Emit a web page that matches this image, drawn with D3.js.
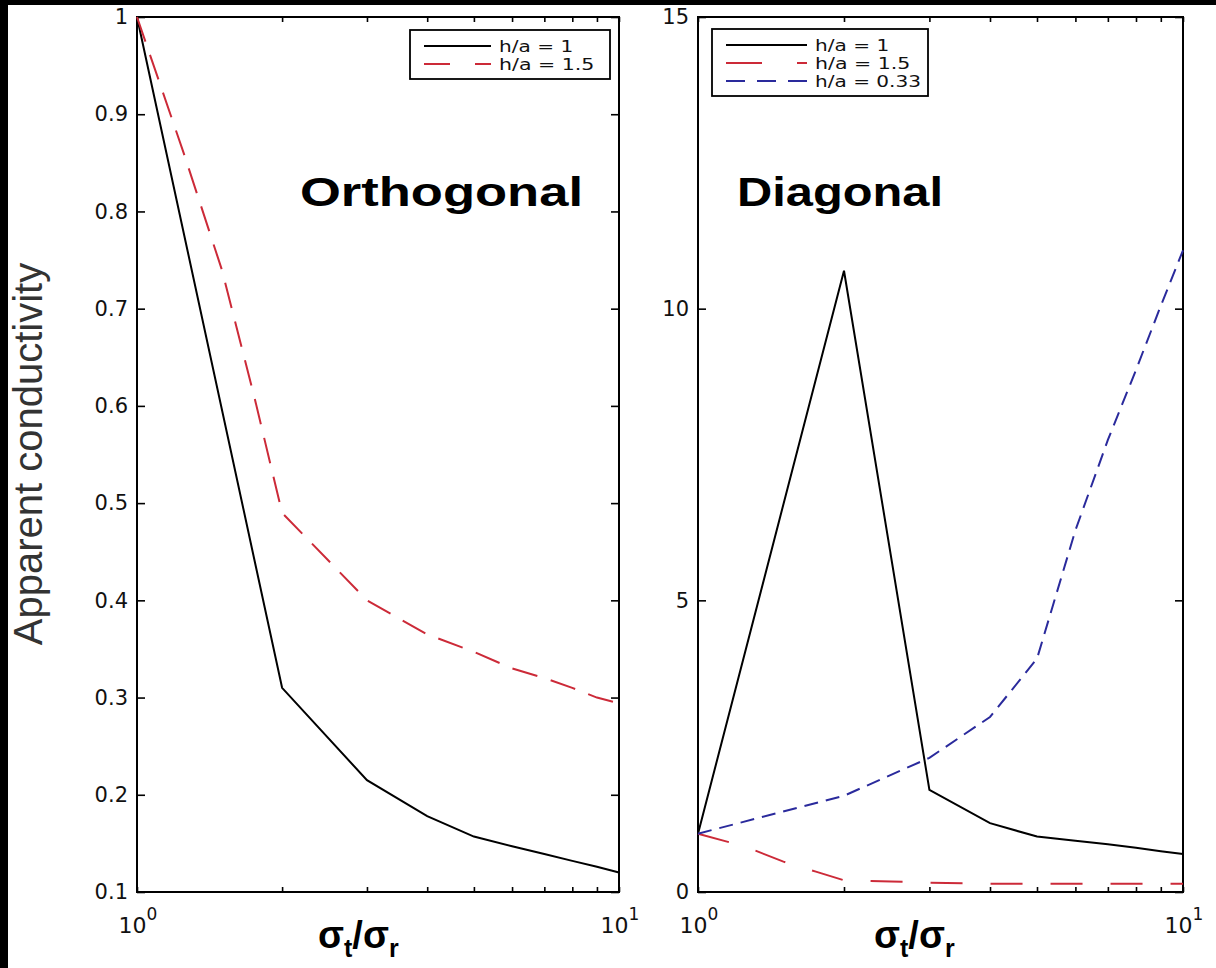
<!DOCTYPE html>
<html><head><meta charset="utf-8">
<script src="https://cdn.jsdelivr.net/npm/d3@7"></script>
<style>body{margin:0;background:#fff} svg{display:block}</style>
</head><body>
<svg id="c" width="1216" height="968"></svg>
<script>
// ---------- data ----------
const orthoX_h1  = [1, 2, 3, 4, 5, 6, 7, 8, 9, 10];
const orthoY_h1  = [1.0, 0.31, 0.215, 0.178, 0.157, 0.147, 0.139, 0.132, 0.126, 0.12];
const orthoX_h15 = [1, 1.25, 1.5, 1.75, 2, 3, 4, 5, 6, 7, 8, 9, 10];
const orthoY_h15 = [1.0, 0.86, 0.74, 0.61, 0.49, 0.40, 0.365, 0.347, 0.33, 0.32, 0.31, 0.30, 0.294];

const diagX_h1   = [1, 2, 3, 4, 5, 6, 7, 8, 9, 10];
const diagY_h1   = [1.0, 10.65, 1.75, 1.18, 0.95, 0.88, 0.82, 0.76, 0.70, 0.65];
const diagX_h15  = [1, 1.25, 1.5, 1.75, 2, 2.5, 3, 4, 5, 6, 7, 8, 9, 10];
const diagY_h15  = [1.0, 0.78, 0.52, 0.35, 0.2, 0.18, 0.16, 0.14, 0.14, 0.14, 0.14, 0.14, 0.14, 0.14];
const diagX_h033 = [1, 2, 3, 4, 5, 6, 7, 8, 9, 10];
const diagY_h033 = [1.0, 1.65, 2.3, 3.0, 4.0, 6.2, 7.75, 8.95, 10.05, 11.0];

const orthoYTicks = [0.1, 0.2, 0.3, 0.4, 0.5, 0.6, 0.7, 0.8, 0.9, 1];
const diagYTicks  = [0, 5, 10, 15];
const xMinorTicks = [1, 2, 3, 4, 5, 6, 7, 8, 9, 10];
const xTickLabels = [{v: 1, base: "10", exp: "0"}, {v: 10, base: "10", exp: "1"}];
const legendOrtho = ["h/a = 1", "h/a = 1.5"];
const legendDiag  = ["h/a = 1", "h/a = 1.5", "h/a = 0.33"];

// ---------- styles ----------
const RED = "#cc2a38", BLUE = "#2a2a9c", BLACK = "#000";
const TOP = 17, BOT = 892;
const svg = d3.select("#c");
svg.append("rect").attr("width", 1216).attr("height", 968).attr("fill", "#fff");

function panel(x0, x1, yDomain, yTicks, yFmt) {
  const xs = d3.scaleLog().domain([1, 10]).range([x0, x1]);
  const ys = d3.scaleLinear().domain(yDomain).range([BOT, TOP]);
  const g = svg.append("g");
  const axStyle = sel => {
    sel.select(".domain").remove();
    sel.selectAll(".tick line").attr("stroke", "#000").attr("stroke-width", 1.6);
    sel.selectAll("text").attr("font-family", "DejaVu Sans").attr("font-size", 21).attr("fill", "#111");
  };
  g.append("g").attr("transform", `translate(0,${BOT})`)
    .call(d3.axisBottom(xs).tickValues(xMinorTicks).tickSize(-5).tickFormat("")).call(axStyle);
  g.append("g").attr("transform", `translate(0,${TOP})`)
    .call(d3.axisTop(xs).tickValues(xMinorTicks).tickSize(-5).tickFormat("")).call(axStyle);
  g.append("g").attr("transform", `translate(${x0},0)`)
    .call(d3.axisLeft(ys).tickValues(yTicks).tickSize(-8).tickPadding(9).tickFormat(yFmt)).call(axStyle);
  g.append("g").attr("transform", `translate(${x1},0)`)
    .call(d3.axisRight(ys).tickValues(yTicks).tickSize(-8).tickFormat("")).call(axStyle);
  g.append("rect").attr("x", x0).attr("y", TOP).attr("width", x1 - x0).attr("height", BOT - TOP)
    .attr("fill", "none").attr("stroke", "#000").attr("stroke-width", 2);
  xTickLabels.forEach(t => {
    const tx = g.append("text").attr("x", xs(t.v) + 1).attr("y", 933).attr("text-anchor", "middle")
      .attr("font-family", "DejaVu Sans").attr("fill", "#111");
    tx.append("tspan").attr("font-size", 22).text(t.base);
    tx.append("tspan").attr("font-size", 17).attr("dy", -13).text(t.exp);
  });
  return {xs, ys, g};
}

function drawLine(p, xsArr, ysArr, color, dash, width) {
  const pts = xsArr.map((x, i) => [x, ysArr[i]]);
  p.g.append("path").datum(pts)
    .attr("d", d3.line().x(d => p.xs(d[0])).y(d => p.ys(d[1])))
    .attr("fill", "none").attr("stroke", color).attr("stroke-width", width || 2)
    .attr("stroke-dasharray", dash || null).attr("stroke-linejoin", "miter");
}

const pL = panel(137, 619, [0.1, 1], orthoYTicks, d => d === 1 ? "1" : d3.format(".1f")(d));
const pR = panel(698, 1183, [0, 15], diagYTicks, d3.format("d"));

drawLine(pL, orthoX_h1, orthoY_h1, BLACK);
drawLine(pL, orthoX_h15, orthoY_h15, RED, "26,14");
drawLine(pR, diagX_h1, diagY_h1, BLACK);
drawLine(pR, diagX_h15, diagY_h15, RED, "32,28");
drawLine(pR, diagX_h033, diagY_h033, BLUE, "14,8");

// legends
function legend(x, y, w, lineLen, labels, styles) {
  const step = 18;
  const h = 16 * 2 + step * (labels.length - 1) - 1;
  svg.append("rect").attr("x", x).attr("y", y).attr("width", w).attr("height", h)
    .attr("fill", "#fff").attr("stroke", "#000").attr("stroke-width", 1.8);
  labels.forEach((lab, i) => {
    const cy = y + 16 + i * step;
    svg.append("line").attr("x1", x + 14).attr("x2", x + 14 + lineLen).attr("y1", cy).attr("y2", cy)
      .attr("stroke", styles[i].c).attr("stroke-width", 2).attr("stroke-dasharray", styles[i].d || null);
    svg.append("text").attr("x", x + 22 + lineLen).attr("y", cy + 6).attr("font-family", "DejaVu Sans")
      .attr("font-size", 15).attr("fill", "#111")
      .attr("textLength", lab.length * 10.6).attr("lengthAdjust", "spacingAndGlyphs").text(lab);
  });
}
legend(410, 30, 200, 67, legendOrtho, [{c: BLACK}, {c: RED, d: "26,25"}]);
legend(712, 29, 216, 81, legendDiag, [{c: BLACK}, {c: RED, d: "36,35"}, {c: BLUE, d: "19,12"}]);

// titles / annotations
svg.append("text").attr("x", 300).attr("y", 206).attr("font-family", "Liberation Sans").attr("font-weight", "bold")
  .attr("font-size", 40).attr("textLength", 283).attr("lengthAdjust", "spacingAndGlyphs").text("Orthogonal");
svg.append("text").attr("x", 737).attr("y", 206).attr("font-family", "Liberation Sans").attr("font-weight", "bold")
  .attr("font-size", 40).attr("textLength", 206).attr("lengthAdjust", "spacingAndGlyphs").text("Diagonal");

function sigmaLabel(x) {
  const t = svg.append("text").attr("x", x).attr("y", 948).attr("font-family", "Liberation Sans")
    .attr("font-weight", "bold").attr("font-size", 38).attr("fill", "#000");
  t.append("tspan").text("σ");
  t.append("tspan").attr("font-size", 25).attr("dy", 9).text("t");
  t.append("tspan").attr("dy", -9).text("/σ");
  t.append("tspan").attr("font-size", 25).attr("dy", 9).text("r");
}
sigmaLabel(318);
sigmaLabel(874);

svg.append("text").attr("transform", "translate(42,454) rotate(-90)").attr("text-anchor", "middle")
  .attr("font-family", "Liberation Sans").attr("font-size", 40).attr("fill", "#333").text("Apparent conductivity");

// black frame edges of the original picture
svg.append("rect").attr("x", 0).attr("y", 0).attr("width", 1216).attr("height", 5).attr("fill", "#000");
svg.append("rect").attr("x", 0).attr("y", 0).attr("width", 8).attr("height", 968).attr("fill", "#000");
</script>
</body></html>
